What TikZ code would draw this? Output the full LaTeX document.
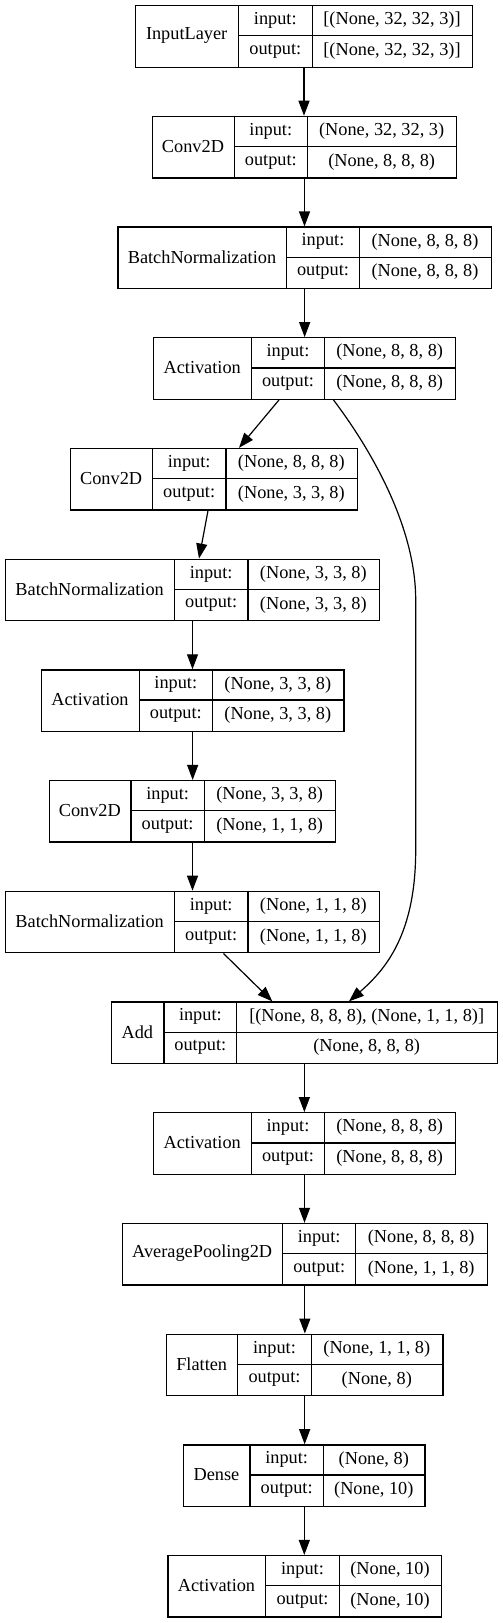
\documentclass[tikz,border=0pt]{standalone}
\usepackage{fontspec}
\setmainfont{Liberation Serif}
\usetikzlibrary{arrows.meta,calc}

\tikzset{
  layerbox/.style={draw=black, line width=1.3pt, rectangle, minimum height=61.5pt, inner sep=0pt},
  cell/.style={draw=black, line width=1.3pt},
  txt/.style={inner sep=0pt, font=\fontsize{18.3}{22}\selectfont},
  edge/.style={-{Triangle[length=15pt,width=11pt]}, line width=1.2pt}
}

% name, left, div1, div2, right, row, title, input, output
\newcommand{\layer}[9]{%
  \pgfmathsetmacro{\ltop}{-(5+110.71*#6)}%
  \pgfmathsetmacro{\lmid}{\ltop-30.75}%
  \pgfmathsetmacro{\lbot}{\ltop-61.5}%
  \pgfmathsetmacro{\lmidup}{\ltop-15.375}%
  \pgfmathsetmacro{\lmiddn}{\ltop-46.125}%
  \node[layerbox, minimum width={(#5-#2)*1pt}, anchor=north west] (#1) at (#2,\ltop) {};
  \draw[cell] (#3,\ltop) -- (#3,\lbot) (#4,\ltop) -- (#4,\lbot) (#3,\lmid) -- (#5,\lmid);
  \node[txt] (#1-name) at ({(#2+#3)/2},\lmid) {#7};
  \node[txt] (#1-inl) at ({(#3+#4)/2},\lmidup) {input:};
  \node[txt] (#1-outl) at ({(#3+#4)/2},\lmiddn) {output:};
  \node[txt] (#1-in) at ({(#4+#5)/2},\lmidup) {#8};
  \node[txt] (#1-out) at ({(#4+#5)/2},\lmiddn) {#9};
}

\begin{document}
\begin{tikzpicture}[x=1pt, y=1pt]
\useasboundingbox (0,0) rectangle (503,-1623);
\layer{in}{135}{238.3}{312.3}{471.7}{0}{InputLayer}{[(None, 32, 32, 3)]}{[(None, 32, 32, 3)]}
\layer{conv1}{151.7}{234.3}{307.3}{456}{1}{Conv2D}{(None, 32, 32, 3)}{(None, 8, 8, 8)}
\layer{bn1}{117.3}{286.7}{359.3}{490.7}{2}{BatchNormalization}{(None, 8, 8, 8)}{(None, 8, 8, 8)}
\layer{act1}{152.7}{251.7}{324.3}{455}{3}{Activation}{(None, 8, 8, 8)}{(None, 8, 8, 8)}
\layer{conv2}{70}{152.3}{226}{356.7}{4}{Conv2D}{(None, 8, 8, 8)}{(None, 3, 3, 8)}
\layer{bn2}{5}{174.3}{248}{378.7}{5}{BatchNormalization}{(None, 3, 3, 8)}{(None, 3, 3, 8)}
\layer{act2}{40.7}{139.3}{212.3}{343.3}{6}{Activation}{(None, 3, 3, 8)}{(None, 3, 3, 8)}
\layer{conv3}{48.7}{131}{204.3}{335}{7}{Conv2D}{(None, 3, 3, 8)}{(None, 1, 1, 8)}
\layer{bn3}{5}{174.3}{248}{378.7}{8}{BatchNormalization}{(None, 1, 1, 8)}{(None, 1, 1, 8)}
\layer{add}{110.7}{164}{236.7}{496.7}{9}{Add}{[(None, 8, 8, 8), (None, 1, 1, 8)]}{(None, 8, 8, 8)}
\layer{act3}{152.7}{251.7}{324.3}{455}{10}{Activation}{(None, 8, 8, 8)}{(None, 8, 8, 8)}
\layer{pool}{121.7}{282.7}{355.7}{486.7}{11}{AveragePooling2D}{(None, 8, 8, 8)}{(None, 1, 1, 8)}
\layer{flat}{165.7}{237.7}{311.3}{442.3}{12}{Flatten}{(None, 1, 1, 8)}{(None, 8)}
\layer{dense}{183}{250}{323.3}{424.3}{13}{Dense}{(None, 8)}{(None, 10)}
\layer{act4}{167.3}{265.7}{339.3}{440.7}{14}{Activation}{(None, 10)}{(None, 10)}

\draw[edge] (in.south) -- (in.south |- conv1.north);
\draw[edge] (conv1.south) -- (conv1.south |- bn1.north);
\draw[edge] (bn1.south) -- (bn1.south |- act1.north);
\draw[edge] ($(act1.south)+(-25.5,0)$) -- ($(conv2.north)+(25,0)$);
\draw[edge] ($(act1.south)+(29,0)$) .. controls (375,-455) and (415.7,-530) .. (415.7,-600)
  -- (415.7,-850) .. controls (415.7,-935) and (385,-970) .. ($(add.north)+(44.6,0)$);
\draw[edge] ($(conv2.south)+(-6,0)$) -- ($(bn2.north)+(6.5,0)$);
\draw[edge] (bn2.south) -- (bn2.south |- act2.north);
\draw[edge] (act2.south) -- (act2.south |- conv3.north);
\draw[edge] (conv3.south) -- (conv3.south |- bn3.north);
\draw[edge] ($(bn3.south)+(31,0)$) -- ($(add.north)+(-32,0)$);
\draw[edge] (add.south) -- (add.south |- act3.north);
\draw[edge] (act3.south) -- (act3.south |- pool.north);
\draw[edge] (pool.south) -- (pool.south |- flat.north);
\draw[edge] (flat.south) -- (flat.south |- dense.north);
\draw[edge] (dense.south) -- (dense.south |- act4.north);
\end{tikzpicture}
\end{document}
